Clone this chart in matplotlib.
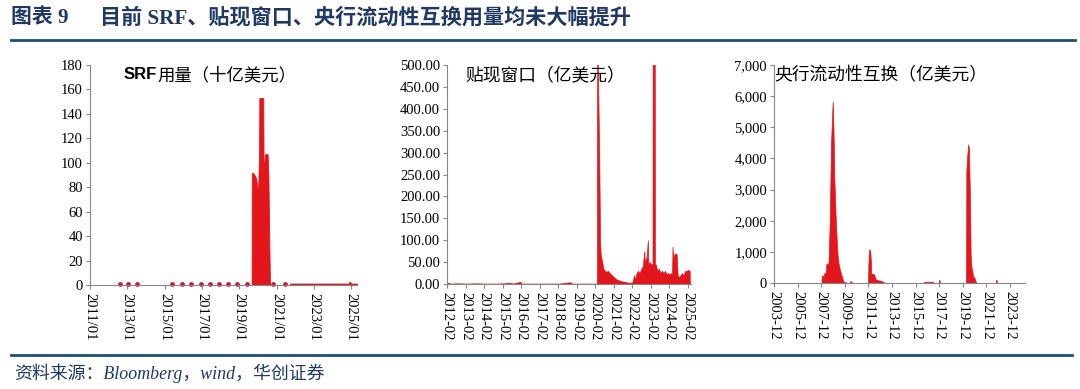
import matplotlib
matplotlib.use("Agg")
import matplotlib.pyplot as plt
from matplotlib.ticker import FuncFormatter, MultipleLocator
import pandas as pd
from matplotlib.lines import Line2D

# ---------------- data ----------------
title_head = "图表 9"
title_text = "目前 SRF、贴现窗口、央行流动性互换用量均未大幅提升"
source_text = "资料来源：Bloomberg，wind，华创证券"

# Panel 1: SRF usage (billion USD)
srf_title_bold = "SRF"
srf_title = "用量（十亿美元）"
srf_dates = ["2011-01-01", "2019-09-01", "2019-09-04", "2019-10-15", "2019-11-20", "2019-12-10",
             "2020-01-05", "2020-01-25", "2020-01-30", "2020-04-15", "2020-04-22", "2020-05-05",
             "2020-05-20", "2020-07-10", "2020-07-25", "2020-08-10", "2020-08-25", "2021-09-18",
             "2021-09-20", "2022-06-01", "2023-01-01", "2023-09-01", "2024-06-01", "2024-11-20",
             "2024-12-01", "2024-12-10", "2025-01-05", "2025-04-20", "2025-04-22"]
srf_values = [0, 0, 92, 91, 88, 84,
              75, 110, 153, 153, 100, 97,
              107, 107, 90, 40, 0, 0,
              1.2, 1.2, 1.2, 1.2, 1.2, 1.2,
              2.8, 2.2, 1.2, 1.2, 0]
srf_dot_dates = ["2012-08-10", "2013-01-20", "2013-07-01", "2015-05-30", "2015-11-30", "2016-05-30",
                 "2016-12-10", "2017-06-05", "2017-12-01", "2018-05-20", "2018-11-10", "2019-05-25",
                 "2020-10-30", "2021-06-15"]
srf_dot_values = [0.8] * 14
srf_ticks = ["2011-01-01", "2013-01-01", "2015-01-01", "2017-01-01", "2019-01-01",
             "2021-01-01", "2023-01-01", "2025-01-01"]
srf_tick_labels = ["2011/01", "2013/01", "2015/01", "2017/01", "2019/01", "2021/01", "2023/01", "2025/01"]

# Panel 2: discount window (100 million USD)
dw_title = "贴现窗口（亿美元）"
dw_dates = ["2012-02-01", "2012-03-01", "2012-04-01", "2012-09-01", "2013-03-01", "2013-09-01",
            "2014-03-01", "2014-09-01", "2015-03-01", "2015-07-01", "2015-09-01", "2016-01-15",
            "2016-02-15", "2016-09-01", "2017-03-01", "2017-09-01", "2018-03-01", "2018-10-01",
            "2018-11-01", "2019-06-01", "2020-03-01", "2020-03-10", "2020-03-14", "2020-03-30",
            "2020-04-05", "2020-04-15", "2020-04-28", "2020-05-10", "2020-05-22", "2020-06-20",
            "2020-07-15", "2020-08-15", "2020-09-15", "2020-10-15", "2020-11-15", "2020-12-15",
            "2021-01-15", "2021-02-15", "2021-03-15", "2021-04-15", "2021-06-01", "2021-07-15",
            "2021-09-01", "2021-10-15", "2021-12-01", "2022-01-15", "2022-02-15", "2022-03-10",
            "2022-04-01", "2022-05-01", "2022-06-01", "2022-07-01", "2022-08-01", "2022-09-01",
            "2022-10-01", "2022-10-15", "2022-11-15", "2022-12-10", "2022-12-20", "2023-01-15",
            "2023-02-15", "2023-03-12", "2023-03-15", "2023-04-25", "2023-04-28", "2023-05-15",
            "2023-06-15", "2023-07-15", "2023-08-15", "2023-09-15", "2023-10-15", "2023-11-15",
            "2023-12-15", "2024-01-15", "2024-02-15", "2024-03-15", "2024-04-01", "2024-04-10",
            "2024-04-25", "2024-05-10", "2024-06-01", "2024-07-01", "2024-07-20", "2024-08-15",
            "2024-09-15", "2024-10-15", "2024-11-15", "2024-12-15", "2025-01-15", "2025-02-15",
            "2025-03-15", "2025-03-18"]
dw_values = [0, 3, 1, 1.5, 1, 1.5,
             1, 1, 1.5, 3, 1, 5,
             1, 1, 1, 1, 1, 4,
             1, 1, 1, 1, 600, 480,
             440, 360, 250, 100, 70, 50,
             35, 30, 28, 30, 25, 22,
             18, 15, 12, 10, 8, 6,
             5, 4, 3, 3, 5, 20,
             10, 25, 30, 25, 35, 40,
             75, 50, 60, 100, 45, 50,
             45, 45, 600, 600, 40, 45,
             30, 35, 25, 30, 25, 30,
             22, 25, 22, 25, 20, 85,
             60, 65, 70, 68, 20, 15,
             20, 25, 20, 30, 30, 32,
             30, 0]
dw_ticks = ["%d-02-01" % y for y in range(2012, 2026)]
dw_tick_labels = ["%d-02" % y for y in range(2012, 2026)]

# Panel 3: central bank liquidity swaps (100 million USD)
sw_title = "央行流动性互换（亿美元）"
sw_dates = ["2003-12-01", "2007-12-10", "2007-12-17", "2008-01-31", "2008-02-10", "2008-03-10",
            "2008-04-30", "2008-05-05", "2008-06-20", "2008-07-15", "2008-08-20", "2008-10-01",
            "2008-11-20", "2008-12-15", "2009-01-10", "2009-02-05", "2009-03-01", "2009-03-30",
            "2009-04-25", "2009-05-25", "2009-07-05", "2009-08-20", "2009-10-15", "2009-12-01",
            "2010-01-15", "2010-02-01", "2010-05-15", "2010-05-20", "2010-07-01", "2010-09-01",
            "2011-11-20", "2011-11-30", "2011-12-20", "2012-01-15", "2012-02-01", "2012-02-15",
            "2012-03-01", "2012-04-15", "2012-05-15", "2012-06-15", "2012-07-15", "2012-09-01",
            "2012-11-01", "2013-01-01", "2013-03-01", "2013-05-01", "2013-07-01", "2016-08-15",
            "2016-08-25", "2016-12-01", "2017-03-01", "2017-05-20", "2017-05-30", "2017-11-20",
            "2017-12-05", "2017-12-20", "2018-01-05", "2020-03-05", "2020-03-12", "2020-03-20",
            "2020-04-10", "2020-05-15", "2020-06-10", "2020-07-10", "2020-08-01", "2020-08-25",
            "2020-09-20", "2020-10-20", "2020-11-15", "2020-12-15", "2021-01-20", "2021-02-15",
            "2022-09-20", "2022-10-01", "2022-10-15", "2022-10-25", "2025-03-01"]
sw_values = [0, 0, 240, 240, 150, 330,
             330, 600, 620, 650, 1900, 4500,
             5830, 5000, 3400, 2600, 1900, 1300,
             850, 600, 420, 250, 50, 30,
             20, 0, 0, 70, 20, 0,
             0, 600, 1050, 1080, 950, 700,
             300, 280, 300, 200, 120, 100,
             80, 70, 30, 10, 0, 0,
             40, 40, 40, 40, 0, 0,
             100, 60, 0, 0, 300, 3600,
             4000, 4450, 4300, 2700, 900, 500,
             400, 150, 200, 100, 20, 0,
             0, 100, 90, 0, 0]
sw_ticks = ["%d-12-01" % y for y in range(2003, 2024, 2)]
sw_tick_labels = ["%d-12" % y for y in range(2003, 2024, 2)]

# ---------------- style ----------------
RED = "#E3161C"
DOT_RED = "#D0102E"
NAVY = "#1F3864"
LINE_BLUE = "#1F4E79"
AXIS_GREY = "#868686"
SERIF = ["Liberation Serif", "DejaVu Serif"]
CJK = ["Noto Sans CJK SC", "DejaVu Sans"]
SERIF_CJK = ["Liberation Serif", "Noto Sans CJK SC"]

W, H = 1080, 389
fig = plt.figure(figsize=(W / 100, H / 100), dpi=100)


def axes_px(left, right, top, bottom):
    return fig.add_axes([left / W, (H - bottom) / H, (right - left) / W, (bottom - top) / H])


def style_axes(ax, ticks, labels, xmin, xmax, ymax, ystep, yfmt):
    for s in ["top", "right"]:
        ax.spines[s].set_visible(False)
    for s in ["left", "bottom"]:
        ax.spines[s].set_color(AXIS_GREY)
        ax.spines[s].set_linewidth(0.8)
    ax.set_xlim(pd.Timestamp(xmin), pd.Timestamp(xmax))
    ax.set_ylim(0, ymax)
    ax.yaxis.set_major_locator(MultipleLocator(ystep))
    ax.yaxis.set_major_formatter(FuncFormatter(yfmt))
    ax.set_xticks(pd.to_datetime(ticks))
    ax.set_xticklabels(labels, rotation=-90, fontsize=10.5, family=SERIF)
    for t in ax.get_yticklabels():
        t.set_fontfamily(SERIF)
        t.set_fontsize(10.5)
    ax.tick_params(axis="both", direction="out", length=3, width=0.8, color=AXIS_GREY,
                   labelcolor="black", pad=2)
    ax.tick_params(axis="x", pad=3)
    ax.set_facecolor("none")


# Panel 1
ax1 = axes_px(90, 357, 65, 285)
ax1.fill_between(pd.to_datetime(srf_dates), srf_values, color=RED, lw=0.6, edgecolor=RED)
ax1.plot(pd.to_datetime(srf_dot_dates), srf_dot_values, "o", ms=2.4, color=DOT_RED, clip_on=False)
style_axes(ax1, srf_ticks, srf_tick_labels, "2011-01-01", "2025-04-25", 180, 20,
           lambda v, p: "%d" % v)
t_srf = ax1.text(0.125, 0.955, srf_title_bold, transform=ax1.transAxes, fontsize=12,
                 fontweight="bold", family=["Liberation Sans", "DejaVu Sans"],
                 va="center", ha="left")
ax1.annotate(srf_title, xy=(1.0, 0.5), xycoords=t_srf, xytext=(0.5, 0),
             textcoords="offset points", fontsize=12.5, family=CJK, va="center", ha="left")

# Panel 2
ax2 = axes_px(447, 691, 65, 284)
ax2.fill_between(pd.to_datetime(dw_dates), dw_values, color=RED, lw=0.5, edgecolor=RED)
style_axes(ax2, dw_ticks, dw_tick_labels, "2012-02-01", "2025-04-10", 500, 50,
           lambda v, p: "%.2f" % v)
ax2.text(0.075, 0.955, dw_title, transform=ax2.transAxes, fontsize=12.8, family=CJK,
         va="center", ha="left")

# Panel 3
ax3 = axes_px(774, 1025, 65, 283)
ax3.fill_between(pd.to_datetime(sw_dates), sw_values, color=RED, lw=0.5, edgecolor=RED)
style_axes(ax3, sw_ticks, sw_tick_labels, "2003-12-01", "2025-03-10", 7000, 1000,
           lambda v, p: "{:,.0f}".format(v))
ax3.text(0.0, 0.955, sw_title, transform=ax3.transAxes, fontsize=12.8, family=CJK,
         va="center", ha="left")

# Title, rules, source
fig.text(11 / W, 1 - 18 / H, title_head, fontsize=15, fontweight="bold", color=NAVY,
         family=SERIF_CJK, va="center", ha="left")
fig.text(100 / W, 1 - 18 / H, title_text, fontsize=15.2, fontweight="bold", color=NAVY,
         family=SERIF_CJK, va="center", ha="left")
fig.add_artist(Line2D([11 / W, 1075 / W], [1 - 40 / H, 1 - 40 / H], color=LINE_BLUE, lw=2.0))
fig.add_artist(Line2D([11 / W, 1072 / W], [1 - 355 / H, 1 - 355 / H], color=LINE_BLUE, lw=2.0))
fig.text(14 / W, 1 - 373 / H, source_text, fontsize=12.9, style="italic", color=NAVY,
         family=SERIF_CJK, va="center", ha="left")

fig.savefig("out.png", dpi=100, facecolor="white")
